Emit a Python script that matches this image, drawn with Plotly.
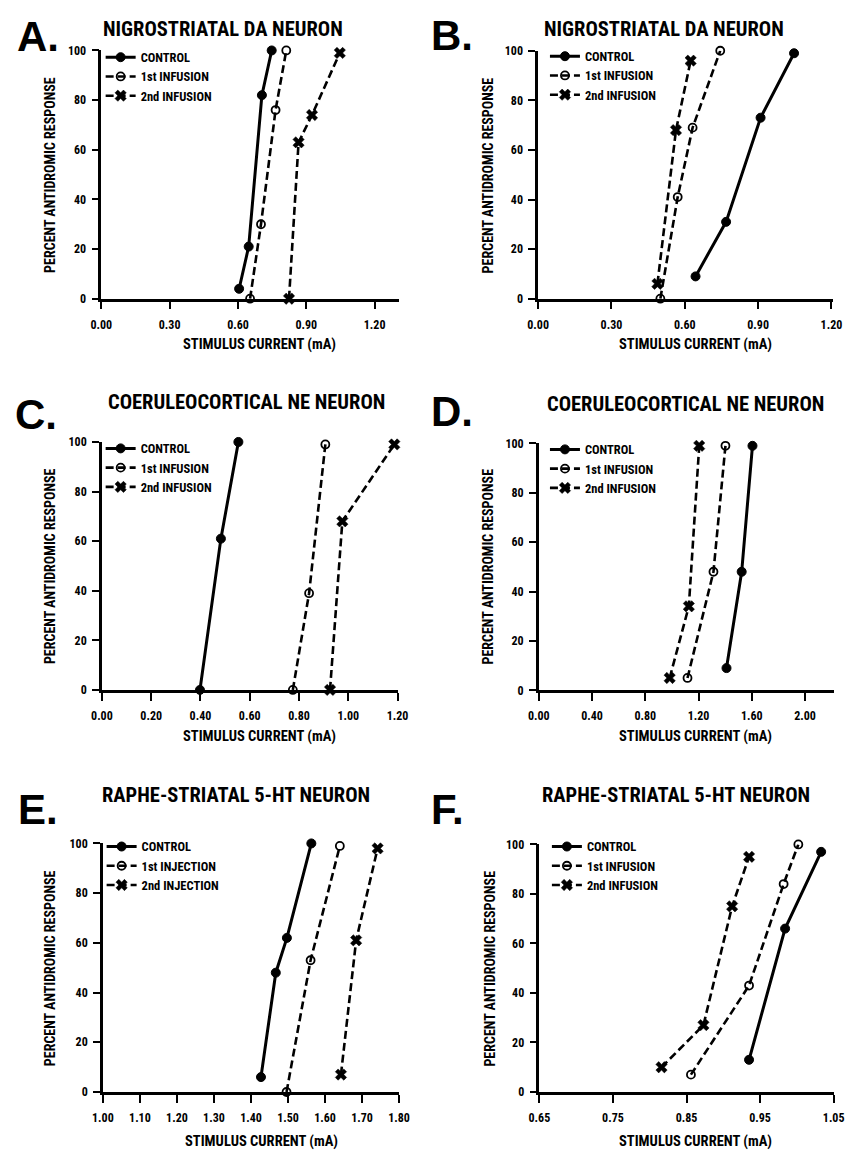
import plotly.graph_objects as go

# ---------------- data ----------------
A_ctrl_x = [0.605, 0.647, 0.705, 0.748]; A_ctrl_y = [4, 21, 82, 100]
A_inf1_x = [0.653, 0.701, 0.765, 0.812]; A_inf1_y = [0, 30, 76, 100]
A_inf2_x = [0.824, 0.866, 0.925, 1.047]; A_inf2_y = [0, 63, 74, 99]

B_ctrl_x = [0.644, 0.769, 0.910, 1.047]; B_ctrl_y = [9, 31, 73, 99]
B_inf1_x = [0.500, 0.571, 0.632, 0.745]; B_inf1_y = [0, 41, 69, 100]
B_inf2_x = [0.488, 0.564, 0.624];        B_inf2_y = [6, 68, 96]

C_ctrl_x = [0.398, 0.483, 0.554]; C_ctrl_y = [0, 61, 100]
C_inf1_x = [0.775, 0.841, 0.907]; C_inf1_y = [0, 39, 99]
C_inf2_x = [0.926, 0.976, 1.187]; C_inf2_y = [0, 68, 99]

D_ctrl_x = [1.410, 1.524, 1.605]; D_ctrl_y = [9, 48, 99]
D_inf1_x = [1.117, 1.312, 1.402]; D_inf1_y = [5, 48, 99]
D_inf2_x = [0.983, 1.127, 1.205]; D_inf2_y = [5, 34, 99]

E_ctrl_x = [1.427, 1.467, 1.497, 1.563]; E_ctrl_y = [6, 48, 62, 100]
E_inf1_x = [1.496, 1.561, 1.640];        E_inf1_y = [0, 53, 99]
E_inf2_x = [1.643, 1.684, 1.742];        E_inf2_y = [7, 61, 98]

F_ctrl_x = [0.935, 0.984, 1.033];        F_ctrl_y = [13, 66, 97]
F_inf1_x = [0.856, 0.935, 0.982, 1.002]; F_inf1_y = [7, 43, 84, 100]
F_inf2_x = [0.816, 0.873, 0.912, 0.935]; F_inf2_y = [10, 27, 75, 95]

A_xticks = [0.0, 0.3, 0.6, 0.9, 1.2]
B_xticks = [0.0, 0.3, 0.6, 0.9, 1.2]
C_xticks = [0.0, 0.2, 0.4, 0.6, 0.8, 1.0, 1.2]
D_xticks = [0.0, 0.4, 0.8, 1.2, 1.6, 2.0]
E_xticks = [1.0, 1.1, 1.2, 1.3, 1.4, 1.5, 1.6, 1.7, 1.8]
F_xticks = [0.65, 0.75, 0.85, 0.95, 1.05]
y_ticks = [0, 20, 40, 60, 80, 100]

letters = ["A.", "B.", "C.", "D.", "E.", "F."]
titles = ["NIGROSTRIATAL DA NEURON", "NIGROSTRIATAL DA NEURON",
          "COERULEOCORTICAL NE NEURON", "COERULEOCORTICAL NE NEURON",
          "RAPHE-STRIATAL 5-HT NEURON", "RAPHE-STRIATAL 5-HT NEURON"]
names_infusion = ["CONTROL", "1st INFUSION", "2nd INFUSION"]
names_injection = ["CONTROL", "1st INJECTION", "2nd INJECTION"]
x_title = "STIMULUS CURRENT (mA)"
y_title = "PERCENT ANTIDROMIC RESPONSE"

# ---------------- layout geometry (pixels) ----------------
W, H = 858, 1155
FONT = "Liberation Sans Narrow, Arial Narrow, Roboto Condensed, Liberation Sans, Arial, sans-serif"

panels = [
    dict(data=[(A_ctrl_x, A_ctrl_y), (A_inf1_x, A_inf1_y), (A_inf2_x, A_inf2_y)],
         names=names_infusion, xticks=A_xticks, xrange=[0, 1.306],
         xpx=(92.7, 398), ypx=(295.3, 44), leg=(92, 36),
         letter=(28, 30), title=(218, 22), ytitle=(40, 170), xtitle=(255, 342)),
    dict(data=[(B_ctrl_x, B_ctrl_y), (B_inf1_x, B_inf1_y), (B_inf2_x, B_inf2_y)],
         names=names_infusion, xticks=B_xticks, xrange=[0, 1.205],
         xpx=(541, 843.3), ypx=(295.3, 44.3), leg=(548, 35),
         letter=(453, 29), title=(670, 22), ytitle=(490, 170), xtitle=(703, 342)),
    dict(data=[(C_ctrl_x, C_ctrl_y), (C_inf1_x, C_inf1_y), (C_inf2_x, C_inf2_y)],
         names=names_infusion, xticks=C_xticks, xrange=[0, 1.2],
         xpx=(93.3, 396.7), ypx=(691.3, 440.3), leg=(92, 432),
         letter=(26, 412), title=(242, 400), ytitle=(40, 566), xtitle=(255, 738)),
    dict(data=[(D_ctrl_x, D_ctrl_y), (D_inf1_x, D_inf1_y), (D_inf2_x, D_inf2_y)],
         names=names_infusion, xticks=D_xticks, xrange=[0, 2.22],
         xpx=(541.7, 845), ypx=(691.7, 441.7), leg=(548, 433),
         letter=(453, 409), title=(692, 402), ytitle=(490, 566), xtitle=(703, 738)),
    dict(data=[(E_ctrl_x, E_ctrl_y), (E_inf1_x, E_inf1_y), (E_inf2_x, E_inf2_y)],
         names=names_injection, xticks=E_xticks, xrange=[1.0, 1.8],
         xpx=(94.3, 398.3), ypx=(1098.3, 846.7), leg=(93, 835),
         letter=(28, 812), title=(231, 798), ytitle=(40, 973), xtitle=(257, 1148)),
    dict(data=[(F_ctrl_x, F_ctrl_y), (F_inf1_x, F_inf1_y), (F_inf2_x, F_inf2_y)],
         names=names_infusion, xticks=F_xticks, xrange=[0.65, 1.05],
         xpx=(542.3, 844.3), ypx=(1098.3, 847.7), leg=(550, 835),
         letter=(448, 812), title=(683, 798), ytitle=(492, 973), xtitle=(703, 1148)),
]

styles = [
    dict(line=dict(color="black", width=3, dash="solid"),
         marker=dict(symbol="circle", size=9, color="black", line=dict(color="black", width=1))),
    dict(line=dict(color="black", width=2.6, dash="8px,4px"),
         marker=dict(symbol="circle-open", size=8, color="black", line=dict(color="black", width=1.8))),
    dict(line=dict(color="black", width=2.6, dash="8px,4px"),
         marker=dict(symbol="x", size=10, color="black", line=dict(color="black", width=0.5))),
]

def px2x(p):
    return p / W

def px2y(p):
    return 1 - p / H

fig = go.Figure()
annotations = []
layout_upd = {}

for i, p in enumerate(panels):
    k = "" if i == 0 else str(i + 1)
    xa, ya = "x" + k, "y" + k
    leg = "legend" + k
    for j, (xs, ys) in enumerate(p["data"]):
        fig.add_trace(go.Scatter(
            x=xs, y=ys, mode="lines+markers", name=p["names"][j],
            xaxis=xa, yaxis=ya, legend=leg, cliponaxis=False,
            line=styles[j]["line"], marker=styles[j]["marker"],
        ))
    axis_common = dict(showgrid=False, zeroline=False, showline=True,
                       linecolor="black", linewidth=2.5, ticks="outside",
                       tickcolor="black", tickwidth=2.2, mirror=False,
                       tickfont=dict(family=FONT, size=12, color="black", weight="bold"))
    layout_upd["xaxis" + k] = dict(axis_common, domain=[px2x(p["xpx"][0]), px2x(p["xpx"][1])],
                                   range=p["xrange"], tickvals=p["xticks"], tickformat=".2f",
                                   anchor=ya, ticklen=8, ticklabelstandoff=5)
    layout_upd["yaxis" + k] = dict(axis_common, domain=[px2y(p["ypx"][0]), px2y(p["ypx"][1])],
                                   range=[0, 100], tickvals=y_ticks, anchor=xa,
                                   ticklen=7, ticklabelstandoff=3)
    layout_upd[leg] = dict(x=px2x(p["leg"][0]), y=px2y(p["leg"][1]), xanchor="left", yanchor="top",
                           bgcolor="rgba(0,0,0,0)", itemwidth=30, tracegroupgap=0,
                           font=dict(family=FONT, size=12.5, color="black", weight="bold"))
    annotations.append(dict(text=letters[i], x=px2x(p["letter"][0]), y=px2y(p["letter"][1]),
                            xref="paper", yref="paper", showarrow=False, xanchor="center", yanchor="middle",
                            font=dict(family="Liberation Sans, Arial, sans-serif", size=42, color="black", weight="bold")))
    annotations.append(dict(text=titles[i], x=px2x(p["title"][0]), y=px2y(p["title"][1]),
                            xref="paper", yref="paper", showarrow=False, xanchor="center", yanchor="middle",
                            font=dict(family=FONT, size=20.5, color="black", weight="bold")))
    annotations.append(dict(text=y_title, x=px2x(p["ytitle"][0]), y=px2y(p["ytitle"][1]),
                            xref="paper", yref="paper", showarrow=False, textangle=-90,
                            xanchor="center", yanchor="middle",
                            font=dict(family=FONT, size=14, color="black", weight="bold")))
    annotations.append(dict(text=x_title, x=px2x(p["xtitle"][0]), y=px2y(p["xtitle"][1]),
                            xref="paper", yref="paper", showarrow=False,
                            xanchor="center", yanchor="middle",
                            font=dict(family=FONT, size=14.5, color="black", weight="bold")))

fig.update_layout(**layout_upd)
fig.update_layout(
    width=W, height=H, margin=dict(l=0, r=0, t=0, b=0),
    paper_bgcolor="white", plot_bgcolor="white",
    showlegend=True, annotations=annotations,
    font=dict(family=FONT, color="black"),
)

fig.write_html("out.html")
